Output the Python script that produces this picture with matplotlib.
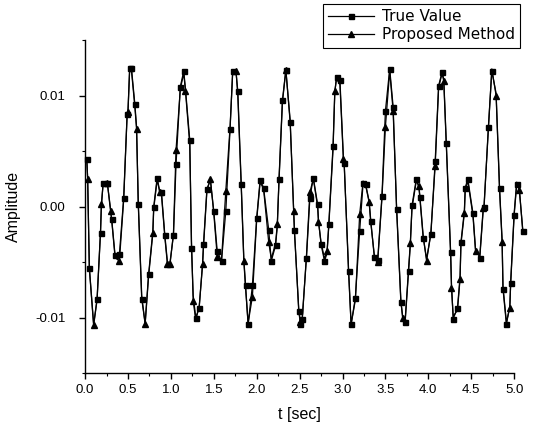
import matplotlib
matplotlib.use("Agg")
import matplotlib.pyplot as plt
from matplotlib.ticker import MultipleLocator, FuncFormatter

# sample times (s); "mark" tells which marker is visible there
t = [0.02, 0.03, 0.05, 0.10, 0.14, 0.18, 0.19, 0.21, 0.26, 0.30, 0.31, 0.35, 0.40,
     0.45, 0.49, 0.50, 0.52, 0.54, 0.58, 0.60, 0.62, 0.66, 0.70, 0.74, 0.79, 0.80,
     0.84, 0.87, 0.89, 0.93, 0.96, 0.99, 1.03, 1.06, 1.11, 1.15, 1.17, 1.22, 1.24,
     1.26, 1.29, 1.33, 1.37, 1.38, 1.42, 1.46, 1.50, 1.54, 1.59, 1.64, 1.69, 1.72,
     1.76, 1.78, 1.82, 1.85, 1.87, 1.90, 1.95, 2.00, 2.04, 2.08, 2.14, 2.17, 2.22,
     2.24, 2.26, 2.30, 2.34, 2.39, 2.43, 2.44, 2.49, 2.51, 2.53, 2.58, 2.62, 2.66,
     2.71, 2.72, 2.75, 2.79, 2.82, 2.84, 2.89, 2.91, 2.93, 2.97, 3.01, 3.02, 3.07,
     3.10, 3.15, 3.20, 3.24, 3.27, 3.31, 3.33, 3.37, 3.41, 3.46, 3.50, 3.55, 3.59,
     3.63, 3.68, 3.70, 3.73, 3.77, 3.79, 3.81, 3.86, 3.89, 3.90, 3.94, 3.98, 4.03,
     4.08, 4.12, 4.16, 4.18, 4.21, 4.26, 4.27, 4.29, 4.34, 4.37, 4.38, 4.42, 4.43,
     4.46, 4.52, 4.55, 4.60, 4.64, 4.65, 4.70, 4.74, 4.79, 4.83, 4.86, 4.87, 4.91,
     4.95, 4.96, 5.00, 5.03, 5.06, 5.10]

# amplitudes in units of 1e-3
true_value = [4.25, 2.6, -5.5, -10.6, -8.3, -2.4, 0.0, 2.1, 2.1, -0.6, -1.1, -4.4, -4.3,
              0.8, 8.3, 8.6, 12.5, 12.5, 9.25, 7.2, 0.2, -8.3, -10.5, -6.1, -2.2, 0.0,
              2.6, 1.4, 1.3, -2.6, -5.0, -5.0, -2.6, 3.8, 10.8, 12.2, 10.6, 6.0, -3.7,
              -8.0, -10.0, -9.1, -5.0, -3.4, 1.6, 2.4, -0.4, -4.0, -4.9, -0.4, 7.0, 12.2,
              12.0, 10.4, 2.0, -4.7, -7.1, -10.6, -7.1, -1.0, 2.4, 1.7, -2.1, -4.9, -3.5,
              -1.8, 2.5, 9.6, 12.3, 7.6, -0.3, -2.1, -9.4, -10.6, -10.1, -4.6, 0.8, 2.6,
              0.2, -1.2, -3.4, -4.9, -4.2, -1.6, 5.5, 10.2, 11.7, 11.4, 4.5, 3.9, -5.8,
              -10.6, -8.2, -2.2, 2.1, 2.0, 0.5, -1.3, -4.5, -4.8, 1.0, 8.6, 12.4, 9.0,
              -0.2, -8.6, -9.8, -10.4, -5.8, -3.5, 0.1, 2.5, 1.7, 0.9, -2.8, -4.7, -2.5,
              4.1, 10.9, 12.1, 11.5, 5.7, -4.1, -7.0, -10.1, -9.1, -6.3, -3.2, -0.4, 1.7,
              2.5, -0.6, -3.8, -4.6, -0.3, 0.0, 7.2, 12.2, 10.2, 1.7, -3.0, -7.4, -10.6,
              -8.9, -6.9, -0.8, 2.0, 1.7, -2.2]

proposed = [4.3, 2.5, -5.6, -10.7, -8.4, -2.2, 0.2, 2.0, 2.1, -0.4, -1.2, -4.6, -4.9,
            0.6, 8.2, 8.5, 12.4, 12.3, 9.0, 7.0, 0.4, -8.0, -10.6, -6.3, -2.4, -0.2,
            2.4, 1.3, 1.1, -2.8, -5.2, -5.2, -2.4, 5.1, 10.6, 12.0, 10.4, 5.6, -3.0,
            -8.5, -10.2, -9.0, -5.2, -3.6, 1.4, 2.5, -0.6, -4.5, -4.8, 1.4, 7.2, 12.0,
            12.2, 10.0, 1.8, -4.9, -7.3, -10.5, -8.1, -1.2, 2.2, 1.6, -3.2, -4.7, -3.3,
            -1.6, 2.3, 9.4, 12.3, 7.8, -0.4, -2.3, -9.2, -10.4, -10.3, -4.4, 1.3, 2.5,
            0.0, -1.4, -3.2, -4.7, -4.0, -1.8, 5.2, 10.4, 11.5, 11.0, 4.3, 3.7, -5.5,
            -10.6, -8.4, -0.7, 2.3, 1.9, 0.4, -1.5, -4.3, -5.0, 0.8, 7.2, 12.2, 8.6,
            0.0, -8.4, -10.0, -10.2, -5.6, -3.3, -0.1, 2.3, 1.9, 1.1, -2.6, -4.9, -2.3,
            3.7, 10.7, 12.0, 11.3, 5.5, -4.3, -7.3, -9.9, -9.3, -6.5, -3.4, -0.6, 1.5,
            2.3, -0.8, -4.0, -4.4, -0.1, 0.2, 7.0, 12.4, 10.0, 1.5, -3.2, -7.2, -10.4,
            -9.1, -6.7, -0.6, 2.2, 1.5, -2.0]

mark = ("S T S T S S T S B T S S B S S T S S S T S S T S T S S T S S T T S B S S T S S "
        "T S S T S S T S B S B S S T S S T S S B S S S B S S T S S B S T S S B S S B S "
        "S T S S T S S T S S T S S S S B S S T S S B S B S B S S T S S T S S T S S T S "
        "B S S T S S T S S T S T S S S T S T S S S T S T S S T S S S T S").split()

ticks_x = [0.0, 0.5, 1.0, 1.5, 2.0, 2.5, 3.0, 3.5, 4.0, 4.5, 5.0]

sq_on = [m in ("S", "B") for m in mark]
tri_on = [m in ("T", "B") for m in mark]
scale = 1e-3

plt.rcParams["font.family"] = ["Liberation Sans", "DejaVu Sans"]

fig = plt.figure(figsize=(5.35, 4.26), dpi=100)
ax = fig.add_axes([0.159, 0.124, 0.802, 0.782])

ax.plot(t, [v * scale for v in proposed], color="black", linewidth=0.9,
        marker="^", markersize=4.6, markevery=tri_on, label="Proposed Method",
        clip_on=False, zorder=2)
ax.plot(t, [v * scale for v in true_value], color="black", linewidth=0.9,
        marker="s", markersize=3.6, markevery=sq_on, label="True Value",
        clip_on=False, zorder=3)

ax.set_xlim(0, 5)
ax.set_ylim(-0.015, 0.015)
ax.set_xticks(ticks_x)
ax.xaxis.set_minor_locator(MultipleLocator(0.25))
ax.yaxis.set_major_locator(MultipleLocator(0.01))
ax.yaxis.set_minor_locator(MultipleLocator(0.005))
ax.yaxis.set_major_formatter(FuncFormatter(lambda v, p: f"{v:.2f}"))
ax.xaxis.set_major_formatter(FuncFormatter(lambda v, p: f"{v:.1f}"))

for side in ("top", "right"):
    ax.spines[side].set_visible(False)
for side in ("left", "bottom"):
    ax.spines[side].set_linewidth(1.0)
ax.tick_params(which="major", direction="out", length=4, width=1.0, labelsize=9.5)
ax.tick_params(axis="y", which="major", pad=10)
ax.tick_params(which="minor", direction="out", length=2.5, width=0.8)

ax.set_xlabel("t [sec]", fontsize=11.5, labelpad=8)
ax.set_ylabel("Amplitude", fontsize=11.5, labelpad=10)

handles, labels = ax.get_legend_handles_labels()
leg = ax.legend(handles[::-1], labels[::-1], loc="upper right",
                bbox_to_anchor=(520 / 535, 1 - 4 / 426), bbox_transform=fig.transFigure,
                frameon=True, fancybox=False, framealpha=1, edgecolor="black",
                prop={"family": "DejaVu Sans", "size": 11},
                handlelength=3.0, borderpad=0.35, labelspacing=0.2,
                handletextpad=0.5, borderaxespad=0)
leg.get_frame().set_linewidth(0.8)

fig.savefig("out.png", dpi=100)
